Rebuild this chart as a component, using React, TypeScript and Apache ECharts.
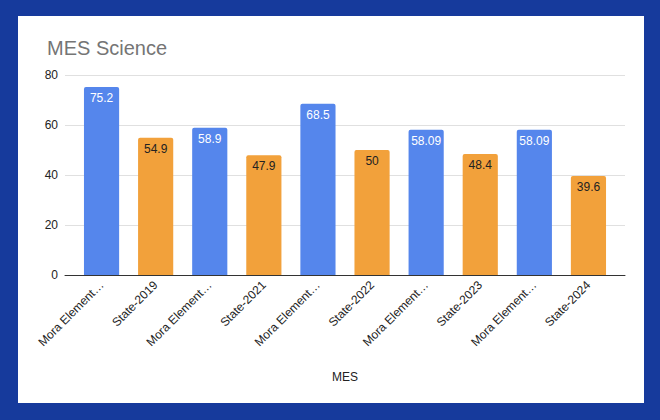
import React, { useEffect, useRef } from "react";
import * as echarts from "echarts";

const categories = [
  "Mora Elementary-2019",
  "State-2019",
  "Mora Elementary-2021",
  "State-2021",
  "Mora Elementary-2022",
  "State-2022",
  "Mora Elementary-2023",
  "State-2023",
  "Mora Elementary-2024",
  "State-2024",
];
const values = [75.2, 54.9, 58.9, 47.9, 68.5, 50, 58.09, 48.4, 58.09, 39.6];
const yTicks = [0, 20, 40, 60, 80];

const BLUE = "#5586ec";
const ORANGE = "#f2a13b";

export default function App() {
  const ref = useRef<HTMLDivElement>(null);
  useEffect(() => {
    if (!ref.current) return;
    const chart = echarts.init(ref.current, undefined, { renderer: "svg" });
    const font = "Arial, 'Liberation Sans', sans-serif";
    const yMin = yTicks[0];
    const yMax = yTicks[yTicks.length - 1];
    chart.setOption({
      animation: false,
      backgroundColor: "#ffffff",
      title: {
        text: "MES Science",
        left: 24,
        top: 17,
        textStyle: { fontSize: 20, fontWeight: "normal", color: "#757575", fontFamily: font },
      },
      grid: [
        { left: 47, right: 19, top: 59, bottom: 128, containLabel: false },
        { left: 56.5, right: 28.5, top: 59, bottom: 128, containLabel: false },
      ],
      xAxis: [
        {
          type: "value",
          gridIndex: 0,
          min: 0,
          max: 1,
          axisLine: { show: true, onZero: false, lineStyle: { color: "#333", width: 1 } },
          axisTick: { show: false },
          axisLabel: { show: false },
          splitLine: { show: false },
          name: "MES",
          nameLocation: "middle",
          nameGap: 96,
          nameTextStyle: { fontSize: 12, color: "#222", fontFamily: font },
        },
        {
          type: "category",
          gridIndex: 1,
          data: categories,
          axisLine: { show: false },
          axisTick: { show: false },
          axisLabel: {
            rotate: 45,
            fontSize: 12,
            color: "#222",
            fontFamily: font,
            interval: 0,
            width: 90,
            overflow: "truncate",
            ellipsis: "…",
            margin: 8,
          },
        },
      ],
      yAxis: [
        {
          type: "value",
          gridIndex: 0,
          min: yMin,
          max: yMax,
          interval: 20,
          axisLine: { show: false },
          axisTick: { show: false },
          axisLabel: { fontSize: 12, color: "#222", fontFamily: font, margin: 7 },
          splitLine: { lineStyle: { color: "#e0e0e0", width: 1 } },
        },
        {
          type: "value",
          gridIndex: 1,
          min: yMin,
          max: yMax,
          interval: 20,
          show: false,
          splitLine: { show: false },
        },
      ],
      series: [
        {
          type: "bar",
          xAxisIndex: 1,
          yAxisIndex: 1,
          barWidth: "65%",
          z: 1,
          data: values.map((v, i) => {
            const blue = i % 2 === 0;
            return {
              value: v,
              itemStyle: { color: blue ? BLUE : ORANGE, borderRadius: [2, 2, 0, 0] },
              label: { color: blue ? "#ffffff" : "#222222" },
            };
          }),
          label: {
            show: true,
            position: "insideTop",
            distance: 5,
            fontSize: 12,
            fontFamily: font,
          },
        },
      ],
    });
    return () => chart.dispose();
  }, []);
  return (
    <div style={{ position: "fixed", left: 0, top: 0, width: 660, height: 420, background: "#163a9c" }}>
      <div
        ref={ref}
        style={{ position: "absolute", left: 18, top: 16, width: 626, height: 387, background: "#fff" }}
      />
    </div>
  );
}
